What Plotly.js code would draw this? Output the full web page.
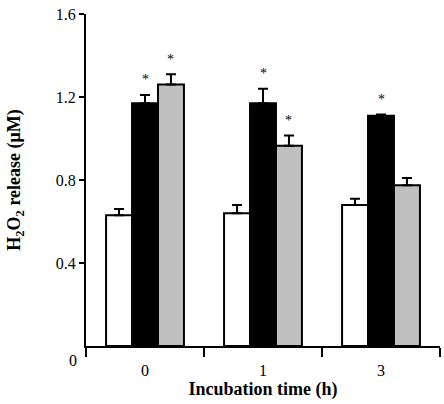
<!DOCTYPE html>
<html>
<head>
<meta charset="utf-8">
<script src="https://cdn.plot.ly/plotly-3.0.1.min.js"></script>
<style>html,body{margin:0;padding:0;background:#fff;}#chart{width:444px;height:404px;}</style>
</head>
<body>
<div id="chart"></div>
<script>
const categories = ["0", "1", "3"];
const whiteValues = [0.63, 0.64, 0.68];
const whiteErrors = [0.03, 0.04, 0.03];
const blackValues = [1.17, 1.17, 1.11];
const blackErrors = [0.04, 0.07, 0.006];
const grayValues = [1.26, 0.965, 0.775];
const grayErrors = [0.05, 0.05, 0.035];
const blackStars = [true, true, true];
const grayStars = [true, true, false];
const yTickVals = [0.4, 0.8, 1.2, 1.6];
const yTickText = ["0.4", "0.8", "1.2", "1.6"];

const font = "Liberation Serif";

function barTrace(name, values, errors, color, offsetgroup) {
  return {
    type: "bar", name: name, x: categories, y: values, offsetgroup: offsetgroup,
    marker: {color: color, line: {color: "#000", width: 2}},
    error_y: {type: "data", array: errors, arrayminus: errors.map(() => 0), symmetric: false,
              color: "#000", thickness: 2, width: 5},
    hoverinfo: "none"
  };
}

const traces = [
  barTrace("white", whiteValues, whiteErrors, "#ffffff", "a"),
  barTrace("black", blackValues, blackErrors, "#000000", "b"),
  barTrace("gray", grayValues, grayErrors, "#c0c0c0", "c")
];

const annotations = [];
const nGroups = 3, slot = 0.66 / nGroups;
function addStars(values, errors, flags, idx) {
  flags.forEach((f, i) => {
    if (!f) return;
    annotations.push({
      x: i, xref: "x", y: values[i] + errors[i], yref: "y",
      xshift: (idx - 1) * slot * 118, yshift: 15,
      text: "*", showarrow: false, font: {family: font, size: 14, color: "#000000"},
      yanchor: "middle"
    });
  });
}
addStars(blackValues, blackErrors, blackStars, 1);
addStars(grayValues, grayErrors, grayStars, 2);

annotations.push({
  x: 0, xref: "paper", xanchor: "right", xshift: -7, y: 0, yref: "y", yshift: -14,
  text: "0", showarrow: false, font: {family: font, size: 16, color: "#000"}
});

const layout = {
  width: 444, height: 404,
  margin: {l: 86, r: 4, t: 14, b: 58},
  paper_bgcolor: "#fff", plot_bgcolor: "#fff",
  showlegend: false,
  barmode: "group", bargap: 0.34, bargroupgap: 0,
  font: {family: font, color: "#000"},
  xaxis: {
    type: "category", tickson: "boundaries", ticks: "outside", ticklen: 9, tickwidth: 2,
    tickcolor: "#000", showline: true, linecolor: "#000", linewidth: 2,
    showgrid: false, zeroline: false, automargin: false, ticklabelstandoff: 9,
    tickfont: {family: font, size: 16, color: "#000"},
    title: {text: "<b>Incubation time (h)</b>", font: {family: font, size: 18, color: "#000"}, standoff: 3}
  },
  yaxis: {
    range: [0, 1.6], tickvals: yTickVals, ticktext: yTickText,
    ticks: "outside", ticklen: 5, tickwidth: 2, tickcolor: "#000",
    showline: true, linecolor: "#000", linewidth: 2,
    showgrid: false, zeroline: false, automargin: false,
    tickfont: {family: font, size: 16, color: "#000"},
    title: {text: "<b>H<sub>2</sub>O<sub>2</sub> release (μM)</b>", font: {family: font, size: 18, color: "#000"}, standoff: 30}
  },
  annotations: annotations
};

Plotly.newPlot("chart", traces, layout, {displayModeBar: false, staticPlot: true});
</script>
</body>
</html>
